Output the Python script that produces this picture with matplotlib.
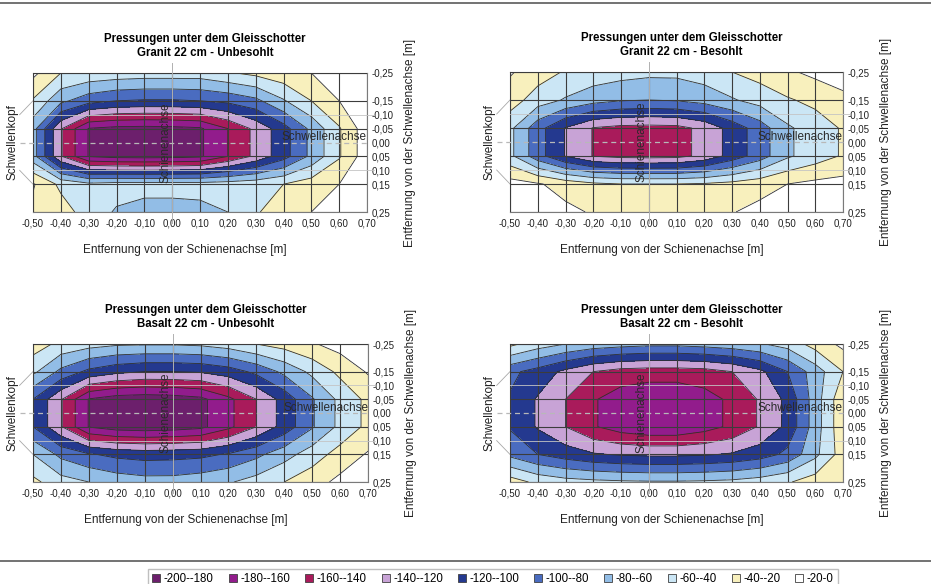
import numpy as np
import matplotlib
matplotlib.use('Agg')
import matplotlib.pyplot as plt
from matplotlib.patches import Patch
from matplotlib.lines import Line2D

plt.rcParams['font.family'] = ['Liberation Sans', 'DejaVu Sans']
plt.rcParams['contour.negative_linestyle'] = 'solid'

# Messraster
x_pos = [-0.50, -0.40, -0.30, -0.20, -0.10, 0.00, 0.10, 0.20, 0.30, 0.40, 0.50, 0.60, 0.70]
y_rows = [-0.25, -0.15, -0.05, 0.05, 0.15, 0.25]
y_ticks = [-0.25, -0.15, -0.10, -0.05, 0.00, 0.05, 0.10, 0.15, 0.25]

levels = list(range(-200, 1, 20))
band_labels = ['-200--180', '-180--160', '-160--140', '-140--120', '-120--100',
               '-100--80', '-80--60', '-60--40', '-40--20', '-20-0']
band_colors = ['#6c1f6c', '#921c8c', '#a91b5b', '#c8a3d6', '#24398f',
               '#4a6cc0', '#92bde6', '#cbe6f5', '#f8f0bd', '#ffffff']

# Pressungen, Zeilen = y_rows, Spalten = x_pos
granit_unbesohlt = [
    [-15, -40, -45, -48, -50, -50, -50, -42, -35, -27, -20, -12, -8],
    [-42, -75, -92, -100, -102, -102, -100, -95, -85, -62, -40, -20, -8],
    [-72, -138, -181, -186, -187, -186, -183, -160, -135, -108, -75, -42, -8],
    [-72, -138, -181, -186, -187, -186, -183, -160, -135, -108, -75, -42, -8],
    [-18, -45, -55, -52, -52, -52, -52, -50, -47, -40, -30, -20, -10],
    [-25, -30, -50, -62, -68, -68, -66, -60, -42, -30, -20, -12, -8],
]
granit_besohlt = [
    [-18, -30, -42, -48, -52, -55, -55, -50, -40, -32, -23, -15, -10],
    [-30, -50, -62, -72, -78, -80, -78, -72, -62, -52, -42, -35, -25],
    [-55, -92, -121, -141, -146, -147, -146, -135, -112, -90, -63, -50, -38],
    [-55, -92, -121, -141, -146, -147, -146, -135, -112, -90, -63, -50, -38],
    [-12, -18, -28, -36, -40, -40, -40, -38, -34, -28, -20, -15, -13],
    [-5, -8, -15, -22, -27, -30, -28, -25, -21, -14, -9, -5, -3],
]
basalt_unbesohlt = [
    [-30, -45, -52, -57, -58, -58, -56, -50, -40, -32, -22, -12, -8],
    [-55, -85, -105, -115, -120, -120, -118, -110, -95, -75, -55, -35, -18],
    [-100, -138, -181, -190, -192, -190, -185, -165, -140, -112, -82, -55, -35],
    [-100, -138, -181, -190, -192, -190, -185, -165, -140, -112, -82, -55, -35],
    [-60, -85, -98, -105, -108, -107, -105, -98, -85, -68, -50, -32, -18],
    [-35, -52, -60, -68, -72, -72, -68, -62, -52, -40, -28, -15, -8],
]
basalt_besohlt = [
    [-35, -50, -60, -68, -72, -75, -75, -72, -68, -62, -52, -32, -15],
    [-95, -108, -125, -140, -148, -150, -150, -148, -140, -125, -100, -70, -40],
    [-102, -122, -140, -158, -170, -176, -176, -168, -156, -138, -115, -70, -25],
    [-102, -122, -140, -158, -170, -176, -176, -168, -156, -138, -115, -70, -25],
    [-85, -100, -110, -118, -122, -124, -124, -122, -118, -110, -95, -65, -30],
    [-30, -45, -52, -55, -57, -58, -58, -57, -55, -50, -42, -30, -22],
]

panels = [granit_unbesohlt, granit_besohlt, basalt_unbesohlt, basalt_besohlt]
titles = ['Pressungen unter dem Gleisschotter\nGranit 22 cm - Unbesohlt',
          'Pressungen unter dem Gleisschotter\nGranit 22 cm - Besohlt',
          'Pressungen unter dem Gleisschotter\nBasalt 22 cm - Unbesohlt',
          'Pressungen unter dem Gleisschotter\nBasalt 22 cm - Besohlt']

W, H = 931, 584
boxes = [(33, 73, 367, 212), (510, 72, 843, 212), (33, 344, 368, 482), (510, 344, 843, 482)]


def fmt(v):
    return f'{v:.2f}'.replace('.', ',')


fig = plt.figure(figsize=(W / 100, H / 100), dpi=100)

for data, title, (x0, y0, x1, y1) in zip(panels, titles, boxes):
    ax = fig.add_axes([x0 / W, 1 - y1 / H, (x1 - x0) / W, (y1 - y0) / H])
    z = np.array(data, dtype=float)
    ax.contourf(x_pos, y_rows, z, levels=levels, colors=band_colors, zorder=1)
    ax.contour(x_pos, y_rows, z, levels=levels, colors='#2e2e2e', linewidths=0.6,
               linestyles='solid', zorder=2)

    # Gitter
    for xv in x_pos:
        ax.axvline(xv, color='#3c3c3c', lw=0.8, zorder=3)
    for yv in y_rows:
        ax.axhline(yv, color='#3c3c3c', lw=0.8, zorder=3)

    ax.set_xlim(-0.5, 0.7)
    ax.set_ylim(0.25, -0.25)
    ax.set_xticks(x_pos)
    ax.set_xticklabels([fmt(v) for v in x_pos])
    ax.yaxis.tick_right()
    ax.set_yticks(y_ticks)
    ax.set_yticklabels([fmt(v) for v in y_ticks])
    ax.tick_params(length=0, labelsize=7, colors='#222222')
    ax.tick_params(axis='x', pad=5)
    ax.tick_params(axis='y', pad=3)
    for s in ax.spines.values():
        s.set_color('#7a7a7a')
        s.set_linewidth(0.8)

    ax.set_xlabel('Entfernung von der Schienenachse [m]', fontsize=8.5, labelpad=11,
                  color='#222222', x=0.455)
    ax.yaxis.set_label_position('right')
    ax.set_ylabel('Entfernung von der Schwellenachse [m]', fontsize=8.5, labelpad=8, color='#222222')
    ax.set_title(title, fontsize=8.3, fontweight='bold', pad=12, linespacing=1.25, x=0.515)

    # Hilfslinien und Beschriftungen
    tr = ax.get_yaxis_transform()
    ax.plot([-0.04, 1.0], [0, 0], transform=tr, ls=(0, (4, 3)), color='#b8b8b8',
            lw=0.9, clip_on=False, zorder=4)
    for yv in (-0.10, 0.10):
        ax.plot([0, 1.02], [yv, yv], transform=tr, color='#c4c4c4', lw=0.6,
                clip_on=False, zorder=4)
    ax.plot([-0.04, 0], [-0.10, -0.15], transform=tr, color='#a8a8a8', lw=0.6, clip_on=False)
    ax.plot([-0.04, 0], [0.10, 0.15], transform=tr, color='#a8a8a8', lw=0.6, clip_on=False)
    ax.plot([0, 0], [-0.285, 0.29], color='#b0b0b0', lw=0.7, clip_on=False, zorder=4)

    ax.text(-0.062, 0, 'Schwellenkopf', transform=tr, rotation=90, ha='center',
            va='center', fontsize=8.5, color='#222222')
    ax.text(0.70, -0.018, 'Schwellenachse', ha='right', va='center', fontsize=8.5,
            color='#2a2a2a', zorder=5)
    ax.text(-0.025, 0.0, 'Schienenachse', rotation=90, ha='center', va='center',
            fontsize=8.5, color='#2a2a2a', zorder=5)

# Rahmenlinien
fig.add_artist(Line2D([0, 1], [1 - 3 / H, 1 - 3 / H], transform=fig.transFigure,
                      color='#5a5a5a', lw=1.2))
fig.add_artist(Line2D([0, 1], [1 - 561 / H, 1 - 561 / H], transform=fig.transFigure,
                      color='#5a5a5a', lw=1.2))

handles = [Patch(facecolor=c, edgecolor='#404040', lw=0.6, label=l)
           for c, l in zip(band_colors, band_labels)]
fig.legend(handles=handles, loc='upper center', bbox_to_anchor=(493 / W, 1 - 563 / H),
           ncol=10, fontsize=8.3, frameon=True, fancybox=False, edgecolor='#b0b0b0',
           handlelength=0.7, handleheight=0.7, handletextpad=0.3, columnspacing=1.3,
           borderpad=0.35)

fig.savefig('out.png', dpi=100)
